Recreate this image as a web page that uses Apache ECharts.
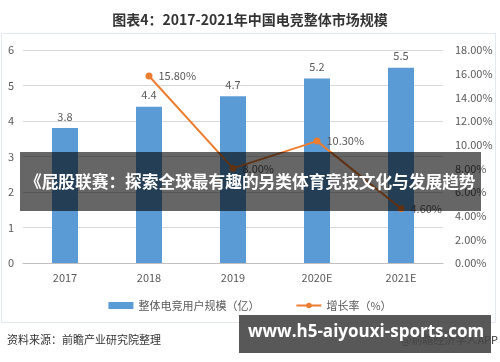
<!DOCTYPE html>
<html><head><meta charset="utf-8">
<script src="https://cdn.jsdelivr.net/npm/echarts@6/dist/echarts.min.js"></script>
<style>html,body{margin:0;padding:0;background:#fff}#c{width:500px;height:362px}</style>
</head><body><div id="c"></div>
<script>
const categories = ['2017','2018','2019','2020E','2021E'];
const users = [3.8, 4.4, 4.7, 5.2, 5.5];
const growth = [null, 15.8, 8.0, 10.3, 4.6];
const leftTicks = [0,1,2,3,4,5,6];
const rightTicks = [0,2,4,6,8,10,12,14,16,18];
const titleText = '图表4：2017-2021年中国电竞整体市场规模';
const bannerText = '《屁股联赛：探索全球最有趣的另类体育竞技文化与发展趋势》';
const siteText = 'www.h5-aiyouxi-sports.com';
const sourceText = '资料来源：前瞻产业研究院整理';
const appText = '@前瞻经济学人APP';

const font = '"Microsoft YaHei","Noto Sans CJK SC",sans-serif';
const chart = echarts.init(document.getElementById('c'));
chart.setOption({
  animation: false,
  textStyle: {fontFamily: font},
  title: {text: titleText, left: 'center', top: 8,
    textStyle: {fontSize: 14, fontWeight: 'bold', color: '#333', fontFamily: font}},
  grid: {left: 23, right: 57, top: 50, bottom: 99, containLabel: false},
  legend: {bottom: 46, left: 'center', itemGap: 36, itemWidth: 25, itemHeight: 7,
    textStyle: {fontSize: 11, color: '#595959'},
    data: [{name: '整体电竞用户规模（亿）', icon: 'rect'}, {name: '增长率（%）'}]},
  xAxis: {type: 'category', data: categories,
    axisLine: {lineStyle: {color: '#bfbfbf'}}, axisTick: {show: false},
    axisLabel: {color: '#595959', fontSize: 11, margin: 9}},
  yAxis: [
    {type: 'value', min: leftTicks[0], max: leftTicks[leftTicks.length-1], interval: 1,
      axisLine: {show: false}, axisTick: {show: false},
      axisLabel: {color: '#595959', fontSize: 11, margin: 9},
      splitLine: {lineStyle: {color: '#d9d9d9'}}},
    {type: 'value', min: rightTicks[0], max: rightTicks[rightTicks.length-1], interval: 2,
      axisLine: {show: false}, axisTick: {show: false}, splitLine: {show: false},
      axisLabel: {color: '#595959', fontSize: 11, margin: 12, formatter: v => v.toFixed(2) + '%'}}
  ],
  series: [
    {name: '整体电竞用户规模（亿）', type: 'bar', data: users, barWidth: 26,
      itemStyle: {color: '#5B9BD5'},
      label: {show: true, position: 'top', color: '#595959', fontSize: 11, distance: 6}},
    {name: '增长率（%）', type: 'line', yAxisIndex: 1, data: growth,
      symbol: 'circle', symbolSize: 7, connectNulls: false,
      lineStyle: {color: '#ED7D31', width: 2}, itemStyle: {color: '#ED7D31'},
      label: {show: true, position: 'right', distance: 6, color: '#595959', fontSize: 11,
        formatter: p => p.value.toFixed(2) + '%'}}
  ],
  graphic: [
    {type: 'rect', z: -1, shape: {x: 1.5, y: 33.5, width: 494, height: 289},
      style: {fill: 'none', stroke: '#e3e8f0', lineWidth: 1}},
    {type: 'text', left: 7, top: 334, style: {text: sourceText, fontSize: 11, fill: '#333', fontFamily: font}},
    {type: 'text', right: 2, top: 334, style: {text: appText, fontSize: 11, fill: '#333', fontFamily: font}},
    {type: 'rect', z: 100, shape: {x: 20, y: 152, width: 461, height: 59},
      style: {fill: 'rgba(0,0,0,0.6)'}},
    {type: 'text', z: 101, left: 25, top: 173,
      style: {text: bannerText, width: 456, overflow: 'truncate', ellipsis: '',
        fontSize: 16.7, fontWeight: 'bold', fill: '#fff', fontFamily: font}},
    {type: 'rect', z: 100, shape: {x: 239, y: 315, width: 252, height: 38},
      style: {fill: 'rgba(70,70,70,0.9)'}},
    {type: 'text', z: 101, left: 248, top: 324,
      style: {text: siteText, fontSize: 17, fontWeight: 'bold', fill: '#fff',
        fontFamily: '"Open Sans","DejaVu Sans",sans-serif'}}
  ]
});
</script></body></html>
